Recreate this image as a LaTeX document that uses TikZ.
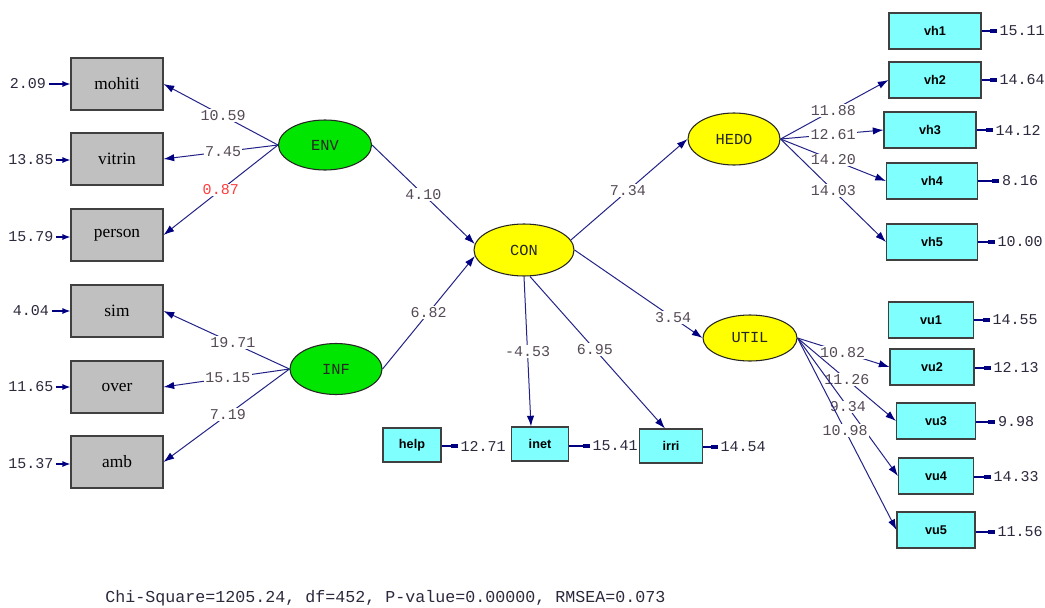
\documentclass[tikz,border=0pt]{standalone}
\usepackage{fontspec}
\setmainfont{Liberation Serif}
\newfontfamily\monof{Liberation Mono}
\newfontfamily\sansf{Liberation Sans}
\usetikzlibrary{shapes.geometric,arrows.meta}
\definecolor{pathblue}{RGB}{35,35,135}
\definecolor{tipblue}{RGB}{0,0,128}
\definecolor{boxgray}{RGB}{192,192,192}
\definecolor{cyanbox}{RGB}{128,255,255}
\definecolor{latgreen}{RGB}{0,230,0}
\definecolor{latyellow}{RGB}{255,255,0}
\definecolor{labgray}{RGB}{85,75,85}
\definecolor{numdark}{RGB}{45,40,60}
\definecolor{redlab}{RGB}{255,60,60}
\begin{document}
\begin{tikzpicture}[x=0.75pt,y=-0.75pt,
 obsgray/.style={draw=black!75, fill=boxgray, line width=0.8pt, minimum width=69pt, minimum height=39pt, inner sep=0pt, font=\fontsize{13}{13}\selectfont},
 obscyan/.style={draw=black!75, fill=cyanbox, line width=0.8pt, minimum height=27pt, inner sep=0pt, font=\sansf\bfseries\fontsize{9.5}{9.5}\selectfont},
 latent/.style={ellipse, draw=black!85, line width=0.8pt, inner sep=0pt, minimum width=70pt, minimum height=38pt, font=\monof\fontsize{11.5}{11.5}\selectfont, text=black!85},
 lpath/.style={draw=pathblue, line width=0.75pt, -{Latex[length=8pt,width=5.5pt,color=tipblue]}},
 est/.style={fill=white, inner sep=1pt, text=labgray, font=\monof\fontsize{11.25}{11.25}\selectfont},
 errnum/.style={inner sep=2pt, text=numdark, font=\monof\fontsize{11.25}{11.25}\selectfont},
 errL/.style={draw=tipblue, line width=0.9pt, -{Latex[length=6pt,width=4.5pt]}},
 errR/.style={draw=tipblue, line width=0.9pt, -{Rectangle[length=5pt,width=3.5pt]}},
]
\useasboundingbox (0,0) rectangle (1045,607);

% observed gray boxes
\node[obsgray] (mohiti) at (117,84) {mohiti};
\node[obsgray] (vitrin) at (117,159) {vitrin};
\node[obsgray] (person) at (117,235) {person};
\node[obsgray] (sim) at (117,311) {sim};
\node[obsgray] (over) at (117,387) {over};
\node[obsgray] (amb) at (117,462) {amb};

% latent variables
\node[latent, fill=latgreen, minimum width=69.75pt, minimum height=37.5pt] (ENV) at (325,145) {ENV};
\node[latent, fill=latgreen, minimum width=69pt, minimum height=38.25pt] (INF) at (336,369) {INF};
\node[latent, fill=latyellow, minimum width=75pt, minimum height=39pt] (CON) at (524,250) {CON};
\node[latent, fill=latyellow, minimum width=69pt, minimum height=39pt] (HEDO) at (734,139) {HEDO};
\node[latent, fill=latyellow, minimum width=70.5pt, minimum height=34.5pt] (UTIL) at (750,338) {UTIL};

% cyan boxes
\node[obscyan, minimum width=69pt] (vh1) at (935,31) {vh1};
\node[obscyan, minimum width=69pt] (vh2) at (935,80) {vh2};
\node[obscyan, minimum width=69pt] (vh3) at (930,130) {vh3};
\node[obscyan, minimum width=68.25pt] (vh4) at (932,181) {vh4};
\node[obscyan, minimum width=68.25pt] (vh5) at (932,242) {vh5};
\node[obscyan, minimum width=63.75pt] (vu1) at (931,320) {vu1};
\node[obscyan, minimum width=63pt] (vu2) at (932,367) {vu2};
\node[obscyan, minimum width=59.25pt] (vu3) at (936,421) {vu3};
\node[obscyan, minimum width=56.25pt] (vu4) at (936,476) {vu4};
\node[obscyan, minimum width=58.5pt] (vu5) at (936,530) {vu5};
\node[obscyan, minimum width=43.5pt, minimum height=25.5pt] (help) at (412,445) {help};
\node[obscyan, minimum width=42.75pt, minimum height=25.5pt] (inet) at (540,444) {inet};
\node[obscyan, minimum width=47.25pt, minimum height=25.5pt] (irri) at (671,446) {irri};

% loadings ENV
\draw[lpath] (ENV.west) -- node[est,pos=0.48]{10.59} (mohiti.east);
\draw[lpath] (ENV.west) -- node[est,pos=0.48]{7.45} (vitrin.east);
\draw[lpath] (ENV.west) -- node[est,pos=0.5,text=redlab]{0.87} (person.east);
% loadings INF
\draw[lpath] (INF.west) -- node[est,pos=0.45]{19.71} (sim.east);
\draw[lpath] (INF.west) -- node[est,pos=0.49]{15.15} (over.east);
\draw[lpath] (INF.west) -- node[est,pos=0.49]{7.19} (amb.east);
% structural
\draw[lpath] (ENV.east) -- node[est,pos=0.5]{4.10} (CON.173);
\draw[lpath] (INF.east) -- node[est,pos=0.5]{6.82} (CON.187);
\draw[lpath] (CON.12) -- node[est,pos=0.49]{7.34} (HEDO.west);
\draw[lpath] (CON.east) -- node[est,pos=0.77]{3.54} (UTIL.west);
\draw[lpath] (CON.south) -- node[est,pos=0.5]{-4.53} ([xshift=-6.75pt]inet.north);
\draw[lpath] ([xshift=4.5pt]CON.south) -- node[est,pos=0.48]{6.95} ([xshift=-4.5pt]irri.north);
% HEDO
\draw[lpath] (HEDO.east) -- node[est,pos=0.49]{11.88} (vh2.west);
\draw[lpath] (HEDO.east) -- node[est,pos=0.51]{12.61} (vh3.west);
\draw[lpath] (HEDO.east) -- node[est,pos=0.5]{14.20} (vh4.west);
\draw[lpath] (HEDO.east) -- node[est,pos=0.5]{14.03} (vh5.west);
% UTIL
\draw[lpath] (UTIL.east) -- node[est,pos=0.49]{10.82} (vu2.west);
\draw[lpath] (UTIL.east) -- node[est,pos=0.5]{11.26} (vu3.west);
\draw[lpath] (UTIL.east) -- node[est,pos=0.5]{9.34} (vu4.west);
\draw[lpath] (UTIL.east) -- node[est,pos=0.48]{10.98} (vu5.west);

% error terms left
\node[errnum] (emohiti) at (28,84) {2.09};
\node[errnum] (evitrin) at (31,160) {13.85};
\node[errnum] (eperson) at (31,237) {15.79};
\node[errnum] (esim) at (31,311) {4.04};
\node[errnum] (eover) at (31,387) {11.65};
\node[errnum] (eamb) at (31,464) {15.37};
\foreach \b in {mohiti,vitrin,person,sim,over,amb}
  \draw[errL] (e\b.east) -- (\b.west |- e\b.east);

% error terms right
\node[errnum] (evh1) at (1022,31) {15.11};
\node[errnum] (evh2) at (1022,80) {14.64};
\node[errnum] (evh3) at (1018,130) {14.12};
\node[errnum] (evh4) at (1020,181) {8.16};
\node[errnum] (evh5) at (1020,242) {10.00};
\node[errnum] (evu1) at (1015,320) {14.55};
\node[errnum] (evu2) at (1016,368) {12.13};
\node[errnum] (evu3) at (1016,422) {9.98};
\node[errnum] (evu4) at (1016,477) {14.33};
\node[errnum] (evu5) at (1020,532) {11.56};
\node[errnum] (ehelp) at (483,446) {12.71};
\node[errnum] (einet) at (615,446) {15.41};
\node[errnum] (eirri) at (743,447) {14.54};
\foreach \b in {vh1,vh2,vh3,vh4,vh5,vu1,vu2,vu3,vu4,vu5,help,inet,irri}
  \draw[errR] (\b.east |- e\b.west) -- (e\b.west);

% fit statistics
\node[anchor=west, inner sep=0pt, text=numdark, font=\monof\fontsize{12.5}{12.5}\selectfont] (fit) at (105,598) {Chi-Square=1205.24, df=452, P-value=0.00000, RMSEA=0.073};
\end{tikzpicture}
\end{document}
